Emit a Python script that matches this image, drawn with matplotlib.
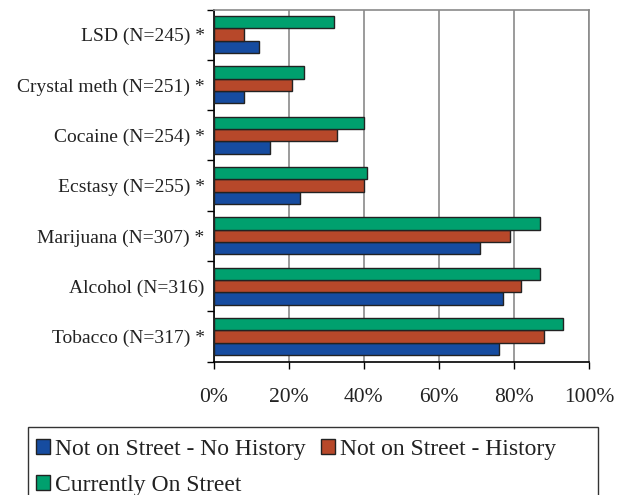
import numpy as np
import matplotlib.pyplot as plt
from matplotlib.patches import Patch, Rectangle

# substances, bottom to top
substances = ['Tobacco (N=317) *', 'Alcohol (N=316)', 'Marijuana (N=307) *',
              'Ecstasy (N=255) *', 'Cocaine (N=254) *', 'Crystal meth (N=251) *',
              'LSD (N=245) *']
no_history = [76, 77, 71, 23, 15, 8, 12]
history = [88, 82, 79, 40, 33, 21, 8]
on_street = [93, 87, 87, 41, 40, 24, 32]

series_names = ['Not on Street - No History', 'Not on Street - History',
                'Currently On Street']
colors = ['#164CA0', '#B7482A', '#00A06E']

plt.rcParams['font.family'] = ['Liberation Serif', 'DejaVu Serif']

fig = plt.figure(figsize=(6.22, 4.95), dpi=100)
ax = fig.add_axes([0.3433, 0.2693, 0.6037, 0.7115])

y = np.arange(len(substances))
h = 0.245
for vals, off, c in zip([no_history, history, on_street], [-h, 0, h], colors):
    ax.barh(y + off, vals, height=h, color=c, edgecolor='#222222',
            linewidth=1.0, zorder=3)

ax.set_xlim(0, 100)
ax.set_ylim(-0.5, len(substances) - 0.5)

ax.set_xticks(np.arange(0, 101, 20))
ax.set_xticklabels([f'{v}%' for v in range(0, 101, 20)], fontsize=15.5, color='#222222')
ax.xaxis.grid(True, color='#8a8a8a', linewidth=1.2, zorder=0)
ax.tick_params(axis='x', direction='out', length=5, width=1, pad=14)

ax.set_yticks(y)
ax.set_yticklabels(substances, fontsize=14, color='#222222')
ax.set_yticks(np.arange(-0.5, len(substances), 1), minor=True)
ax.tick_params(axis='y', which='major', length=0, pad=6.5)
ax.tick_params(axis='y', which='minor', direction='out', length=5, width=1)

for side in ['left', 'bottom']:
    ax.spines[side].set_color('black')
    ax.spines[side].set_linewidth(1.2)
for side in ['top', 'right']:
    ax.spines[side].set_color('#8a8a8a')
    ax.spines[side].set_linewidth(1.2)

# legend box, running off the bottom edge
fig.patches.append(Rectangle((27.5 / 622, -0.1), (598 - 27.5) / 622, 0.1 + 1 - 427 / 495,
                             transform=fig.transFigure, fill=False,
                             edgecolor='#333333', linewidth=1.0))
handles = [Patch(facecolor=c, edgecolor='#222222', linewidth=1.0) for c in colors]
order = [0, 2, 1]
fig.legend([handles[i] for i in order], [series_names[i] for i in order],
           ncol=2, loc='upper left', bbox_to_anchor=(36 / 622, 1 - 438.5 / 495),
           frameon=False, handlelength=0.6, handleheight=0.6,
           handletextpad=0.2, columnspacing=0.65, labelspacing=0.66,
           borderpad=0, borderaxespad=0, fontsize=17, labelcolor='#222222')

fig.savefig('out.png', dpi=100)
